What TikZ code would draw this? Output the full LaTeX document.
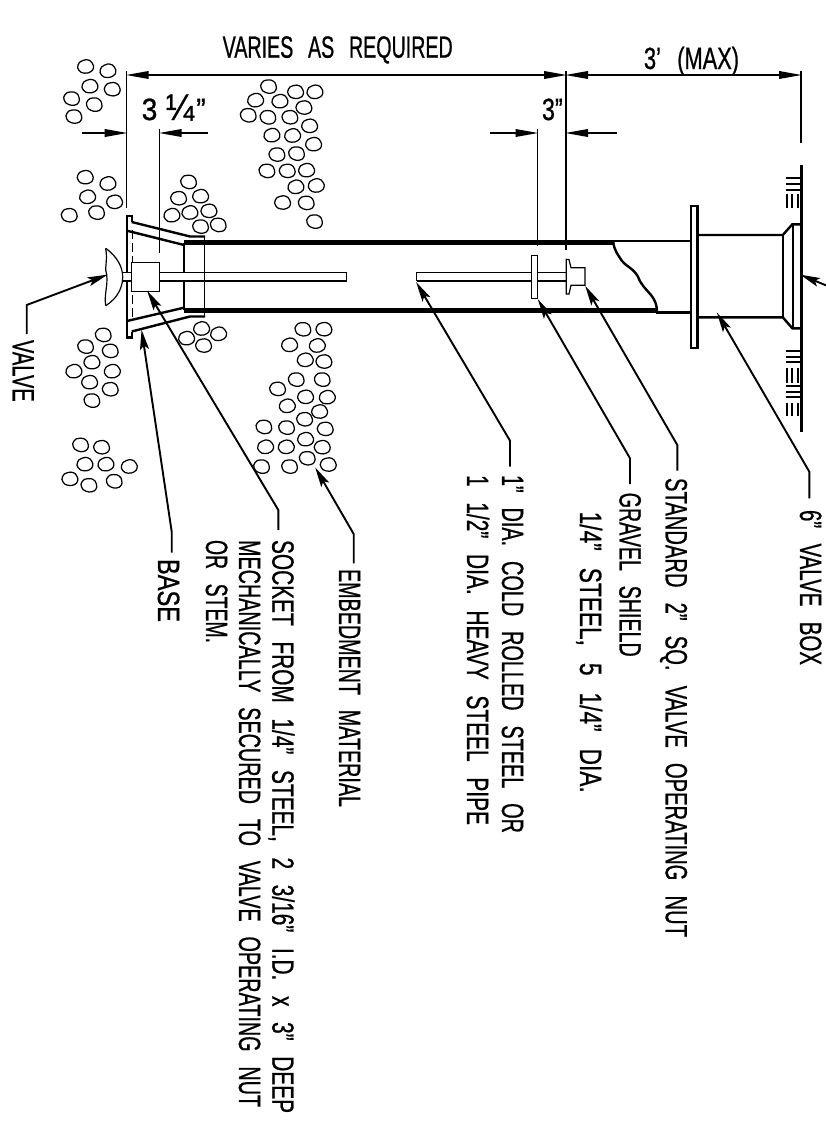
\documentclass[tikz,border=0pt]{standalone}
\usepackage{fontspec}
\setmainfont[FakeBold=0.9]{Liberation Sans}
\usetikzlibrary{arrows.meta}
\newcommand{\fitlab}[3][22]{\resizebox{#2pt}{#1pt}{\raisebox{0pt}[7.16pt][0pt]{\spaceskip=.75em\relax #3}}}
\tikzset{
  lab/.style={inner sep=0pt,outer sep=0pt,anchor=base west},
  vlab/.style={lab,rotate=-90},
  heavy/.style={line width=2.4pt,line cap=butt,line join=miter},
  pipewall/.style={line width=5pt},
  thinl/.style={line width=1.2pt},
  leader/.style={line width=1.9pt,-{Stealth[length=20pt,width=9pt,inset=4pt]},shorten >=-1pt},
  dimline/.style={line width=1.9pt,-{Triangle[length=23pt,width=7.5pt]},shorten >=-1pt},
  tick/.style={line width=2.2pt},
  pebble/.style={line width=1.25pt}
}
\newcommand{\pebbles}[3]{%
  \foreach \a/\b [count=\i] in {#3}{%
    \begin{scope}[shift={(#1+\a/3,#2+\b/3)},rotate={12*sin(\i*47)}]
      \draw[pebble] plot[smooth cycle] coordinates {(7.9,0.3) (5.6,-4.9) (1,-6.9) (-5.5,-5.2) (-8.1,0) (-5.2,5.1) (1,6.6) (6.2,4.6)};
    \end{scope}}}
\begin{document}
\begin{tikzpicture}[x=1pt,y=-1pt]
\useasboundingbox (0,0) rectangle (826,1143);
% pebbles
\pebbles{50}{30}{107/110,174/123,120/169,187/178,65/206,133/224,72/260,
  106/442,174/461,113/501,194/516,58/556,140/548,
  416/456,386/505,452/499,366/556,420/548,477/543,452/590,505/585,
  656/170,737/186,795/186,617/211,690/214,762/233,595/256,654/262,720/262,779/288,666/316,728/317,791/343,681/374,740/371,651/423,712/423,770/421,738/471,799/467,698/518,769/519,794/575}
\pebbles{50}{310}{455/56,506/72,410/85,461/107,
  160/75,107/110,181/123,126/157,72/184,187/184,119/217,181/238,126/272,
  92/405,155/412,105/463,168/463,238/470,60/507,117/526,193/514,
  759/58,822/58,719/105,802/107,766/150,822/155,739/209,817/209,683/237,767/261,832/262,712/288,809/305,764/328,642/351,710/353,826/357,767/388,647/411,709/411,817/412,772/445,635/470,719/470,835/464}
% base and flare
\draw[heavy] (131.7,222)--(131.7,215.7)--(126.7,215.7)--(126.7,272);
\draw[heavy] (126.7,281)--(126.7,337.5)--(131.7,337.5)--(131.7,331.5);
\draw[heavy] (131.7,222)--(190,236.5)--(205,236.5);
\draw[heavy] (127,230.7)--(184,245);
\draw[heavy] (131.7,331.5)--(190,316.5)--(205,316.5);
\draw[heavy] (127,321)--(184,307.7);
\draw[heavy] (184,243)--(184,272) (184,281)--(184,310);
\draw[thinl] (204.8,236)--(204.8,317);
\draw[thinl,dash pattern=on 9pt off 4pt] (132.3,230)--(132.3,321);
% pipe
\draw[pipewall] (184,242.3)--(613.5,242.3);
\draw[pipewall] (184,310.7)--(657,310.7);
\draw[heavy] (613,241)--(690.7,241);
\draw[heavy] (656,312.3)--(690.7,312.3);
\draw[heavy] (613.3,242) .. controls (614,250) and (618,255) .. (622,261) .. controls (627,267) and (633,268) .. (638,276.7) .. controls (641,285) and (646,289) .. (651,295) .. controls (655,300) and (657,305) .. (657,312);
% valve, socket, stem
\draw[thinl] (105.7,248.3) .. controls (118,257) and (122.7,268) .. (122.7,277) .. controls (122.7,287) and (118,298) .. (105.7,305.7);
\draw[thinl] (105.7,248.3) .. controls (108,262) and (104,268) .. (106.7,275) .. controls (108,285) and (104,295) .. (105.7,305.7);
\draw[thinl] (122.7,272.3)--(131.3,272.3) (122.7,281)--(131.3,281);
\draw[thinl] (159.7,272.3)--(346.3,272.3)--(346.3,281)--(159.7,281);
\draw[thinl,fill=white] (131.3,262.7) rectangle (159.7,291.3);
\draw[thinl] (416.7,272.3)--(566.3,272.3) (416.7,281)--(566.3,281) (416.7,272.3)--(416.7,281);
\draw[thinl,fill=white] (531.7,255.7) rectangle (537.7,298.7);
\draw[thinl,fill=white] (566.3,259.3)--(569,259.5)--(571,267.7)--(585,267.7)--(585,285.3)--(571,285.3)--(569,294)--(566.3,294)--cycle;
% valve box
\draw[heavy,fill=white] (690.7,205.7) rectangle (697.3,347.7);
\draw[heavy] (697.3,235)--(782.8,235)--(792.3,224.3)--(801.3,224.3);
\draw[heavy] (697.3,317.3)--(782.8,317.3)--(792.3,328.3)--(801.3,328.3);
\draw[heavy] (782.8,235)--(782.8,317.3);
\draw[heavy] (793,224.3)--(793,328.3);
\draw[heavy] (801.3,165)--(801.3,431.7);
% ground ticks
\foreach \yy in {178.3,184.3,190,350.7,356.7,362.3,386,391.7,397.3}{\draw[tick] (785.5,\yy)--(799.5,\yy);}
\foreach \xx in {786.7,792.3,798}{\draw[tick] (\xx,194.3)--(\xx,208.3);\draw[tick] (\xx,368.3)--(\xx,382.7);\draw[tick] (\xx,403.3)--(\xx,416);}
% extension lines
\coordinate (extA) at (126.7,71); \coordinate (extAe) at (126.7,208);
\coordinate (extB) at (159.7,128.5); \coordinate (extBe) at (159.7,253);
\coordinate (extC) at (537.5,128.5); \coordinate (extCe) at (537.5,246);
\coordinate (extD) at (566,71); \coordinate (extDe) at (566,250);
\coordinate (extE) at (801,71); \coordinate (extEe) at (801,143);
\draw[thinl] (extA)--(extAe) (extB)--(extBe) (extC)--(extCe) (extD)--(extDe) (extE)--(extEe);
% dimensions
\coordinate (dimM) at (346,75);
\draw[dimline] (dimM)--(126.7,75);
\draw[dimline] (dimM)--(566,75);
\coordinate (dimR) at (680,75);
\draw[dimline] (dimR)--(566,75);
\draw[dimline] (dimR)--(801,75);
\coordinate (d1a) at (82,133); \coordinate (d1b) at (208,133);
\draw[dimline] (d1a)--(extA|-d1a);
\draw[dimline] (d1b)--(extB|-d1b);
\coordinate (d2a) at (490,133); \coordinate (d2b) at (616.7,133);
\draw[dimline] (d2a)--(extC|-d2a);
\draw[dimline] (d2b)--(extD|-d2b);
% dimension texts
\node[lab] (tVaries) at (222.7,57.7) {\fitlab{230}{VARIES AS REQUIRED}};
\node[lab] (tThreeQ) at (141.7,120) {\fitlab{64}{3\hspace{.3em}\scalebox{1.2}{¼}\hspace{.08em}"}};
\node[lab] (tThree) at (542,120) {\fitlab{20.7}{3"}};
\node[lab] (tMax) at (644,69) {\fitlab{95}{3' (MAX)}};
% labels
\node[vlab] (lValve) at (12.7,340) {\fitlab{61.7}{VALVE}};
\node[vlab] (lBase) at (158,559) {\fitlab{63}{BASE}};
\node[vlab] (lSockA) at (272.3,540) {\fitlab{573}{SOCKET FROM 1/4" STEEL, 2 3/16" I.D. x 3" DEEP}};
\node[vlab] (lSockB) at (239,540) {\fitlab{567}{MECHANICALLY SECURED TO VALVE OPERATING NUT}};
\node[vlab] (lSockC) at (206,540) {\fitlab{103}{OR STEM.}};
\node[vlab] (lEmbed) at (339,569) {\fitlab{238}{EMBEDMENT MATERIAL}};
\node[vlab] (lPipeA) at (502,475) {\fitlab{358}{1" DIA. COLD ROLLED STEEL OR}};
\node[vlab] (lPipeB) at (467,475) {\fitlab{350}{1 1/2" DIA. HEAVY STEEL PIPE}};
\node[vlab] (lGravA) at (619.5,492.7) {\fitlab{164}{GRAVEL SHIELD}};
\node[vlab] (lGravB) at (580,511.7) {\fitlab{281}{1/4" STEEL, 5 1/4" DIA.}};
\node[vlab] (lStd) at (665.7,478) {\fitlab{459}{STANDARD 2" SQ. VALVE OPERATING NUT}};
\node[vlab] (lBox) at (800,510) {\fitlab{155}{6" VALVE BOX}};
% leaders
\foreach \nm/\tx/\ty/\kx/\ky/\ex/\ey in {
  Valve/106.7/275/26.7/305/26.7/334,
  Base/141.7/330.7/171.7/531.7/171.7/552.7,
  Sock/147.7/291.7/278.3/510/278.3/530,
  Emb/315.7/468.3/353.7/534/353.7/563.3,
  Pipe/416.7/283/510/440.7/510/466.7,
  Grav/538.3/300/630/458.3/630/484,
  Std/585.7/286.7/677.3/445/677.3/470.7,
  Box/717.3/313.3/809.3/471.7/809.3/498.3}{
  \coordinate (tip\nm) at (\tx,\ty);
  \coordinate (knee\nm) at (\kx,\ky);
  \coordinate (end\nm) at (\ex,\ey);
  \draw[leader,line join=miter] (end\nm)--(knee\nm)--(tip\nm);
}
\coordinate (tipGround) at (801,275);
\coordinate (tailGround) at (830,287);
\draw[leader] (tailGround)--(tipGround);
\end{tikzpicture}
\end{document}
